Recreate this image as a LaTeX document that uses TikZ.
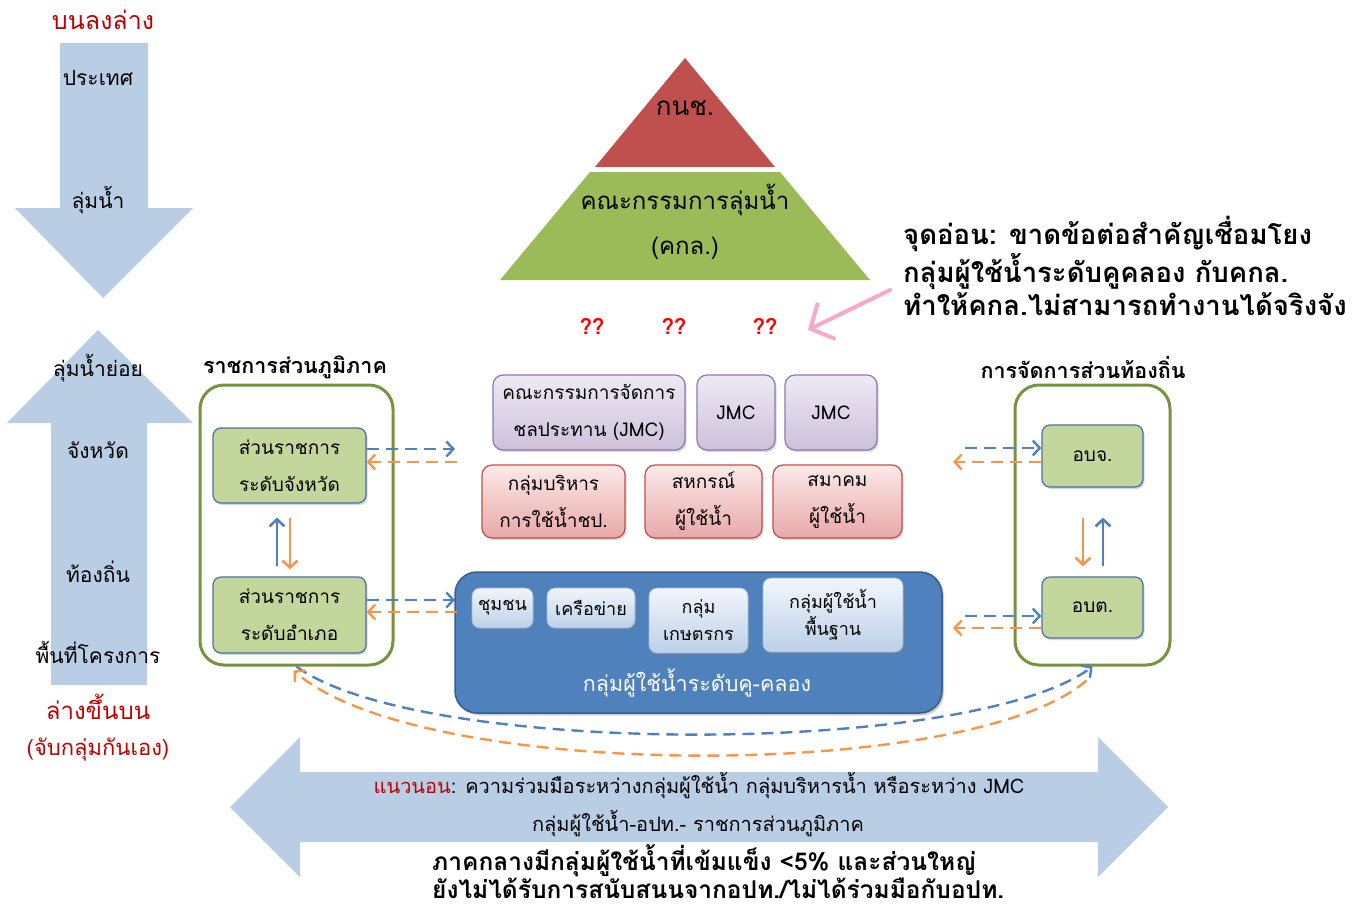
\documentclass[tikz,border=0pt]{standalone}
\usepackage{fontspec}
\newfontfamily\thai[Script=Thai]{Loma}
\usetikzlibrary{arrows.meta,shadows,calc}

\definecolor{pale}{HTML}{B9CDE5}
\definecolor{hdred}{HTML}{C00000}
\definecolor{qred}{HTML}{FF0000}
\definecolor{pyrred}{HTML}{C0504D}
\definecolor{pyrgreen}{HTML}{9BBB59}
\definecolor{grpgreen}{HTML}{77933C}
\definecolor{boxgreen}{HTML}{C3D69B}
\definecolor{boxedge}{HTML}{4A6FA5}
\definecolor{lilac1}{HTML}{EEEAF4}
\definecolor{lilac2}{HTML}{CDC1DB}
\definecolor{lilacedge}{HTML}{8E78B0}
\definecolor{rose1}{HTML}{FBE9E9}
\definecolor{rose2}{HTML}{E9A9A8}
\definecolor{roseedge}{HTML}{C0504D}
\definecolor{ditch}{HTML}{4F81BD}
\definecolor{ditchedge}{HTML}{385D8A}
\definecolor{sky1}{HTML}{F2F6FB}
\definecolor{sky2}{HTML}{BCD0E8}
\definecolor{flowblue}{HTML}{4F81BD}
\definecolor{floworange}{HTML}{F79646}
\definecolor{pinkarrow}{HTML}{F9A8CA}

\tikzset{
  x=1pt, y=-1pt,
  lbl/.style={font=\thai\fontsize{21}{36}\selectfont, align=center, inner sep=0pt},
  boxtxt/.style={font=\thai\fontsize{19}{37}\selectfont, align=center, inner sep=0pt},
  smalltxt/.style={font=\thai\fontsize{18}{27}\selectfont, align=center, inner sep=0pt},
  redhead/.style={font=\thai\fontsize{25}{42}\selectfont, text=hdred, align=center, inner sep=0pt},
  grptitle/.style={font=\thai\bfseries\fontsize{21.5}{24}\selectfont, inner sep=0pt},
  grpbox/.style={draw=grpgreen, line width=3pt, rounded corners=24pt},
  unitbox/.style={draw=boxedge, line width=1.2pt, fill=boxgreen, rounded corners=8pt,
    drop shadow={shadow xshift=1.5pt, shadow yshift=-2pt, opacity=.3}},
  jmcbox/.style={draw=lilacedge, line width=1.2pt, rounded corners=10pt,
    top color=lilac1, bottom color=lilac2,
    drop shadow={shadow xshift=1.5pt, shadow yshift=-2pt, opacity=.3}},
  assocbox/.style={draw=roseedge, line width=1.2pt, rounded corners=10pt,
    top color=rose1, bottom color=rose2,
    drop shadow={shadow xshift=1.5pt, shadow yshift=-2pt, opacity=.3}},
  ditchbox/.style={draw=ditchedge, line width=1.5pt, fill=ditch, rounded corners=22pt,
    drop shadow={shadow xshift=2pt, shadow yshift=-2.5pt, opacity=.35}},
  subbox/.style={draw=sky2!80!ditchedge, line width=.8pt, rounded corners=8pt,
    top color=sky1, bottom color=sky2,
    drop shadow={shadow xshift=1.5pt, shadow yshift=-2pt, opacity=.35}},
  barb/.style={-{Straight Barb[length=7pt,width=15pt]}},
  bflow/.style={barb, draw=flowblue, line width=2.4pt, dash pattern=on 12pt off 7pt},
  oflow/.style={barb, draw=floworange, line width=2.4pt, dash pattern=on 12pt off 7pt},
  bsolid/.style={barb, draw=flowblue, line width=2.6pt},
  osolid/.style={barb, draw=floworange, line width=2.6pt},
  qmark/.style={font=\thai\bfseries\fontsize{22}{24}\selectfont, text=qred, inner sep=0pt},
  notetxt/.style={font=\thai\bfseries\fontsize{27.5}{33}\selectfont, align=left, inner sep=0pt},
}

\begin{document}
\begin{tikzpicture}
% canvas
\fill[white] (0,0) rectangle (1370,908);
\useasboundingbox (0,0) rectangle (1370,908);

% ---- vertical scale arrows on the left
\fill[pale] (60,43) -- (148,43) -- (148,208) -- (193,208) -- (103,298) -- (15,208) -- (60,208) -- cycle;
\fill[pale] (98,330) -- (193,423) -- (147,423) -- (147,685) -- (51,685) -- (51,423) -- (7,423) -- cycle;

\node[redhead] (topdown) at (103,20) {บนลงล่าง};
\node[lbl] (country) at (98,78) {ประเทศ};
\node[lbl] (basin) at (98,200) {ลุ่มน้ำ};
\node[lbl] (subbasin) at (98,368) {ลุ่มน้ำย่อย};
\node[lbl] (province) at (98,450) {จังหวัด};
\node[lbl] (locality) at (98,572) {ท้องถิ่น};
\node[lbl] (project) at (98,652) {พื้นที่โครงการ};
\node[redhead, font=\thai\fontsize{24}{26}\selectfont] (bottomup) at (98,707) {ล่างขึ้นบน};
\node[redhead, font=\thai\fontsize{22}{24}\selectfont] (selforg) at (98,750) {(จับกลุ่มกันเอง)};

% ---- horizontal arrow
\fill[pale] (230,807) -- (300,737) -- (300,772) -- (1098,772) -- (1098,737) -- (1168,807)
  -- (1098,877) -- (1098,842) -- (300,842) -- (300,877) -- cycle;
\node[font=\thai\fontsize{20}{24}\selectfont, inner sep=0pt] (horiz1) at (699,785)
  {\textcolor{hdred}{แนวนอน}: ความร่วมมือระหว่างกลุ่มผู้ใช้น้ำ กลุ่มบริหารน้ำ หรือระหว่าง JMC};
\node[font=\thai\fontsize{20}{24}\selectfont, inner sep=0pt] (horiz2) at (698,823)
  {กลุ่มผู้ใช้น้ำ-อปท.- ราชการส่วนภูมิภาค};
\node[font=\thai\bfseries\fontsize{24.5}{26}\selectfont, align=left, inner sep=0pt, anchor=west] (central) at (432,872)
  {ภาคกลางมีกลุ่มผู้ใช้น้ำที่เข้มแข็ง <5\% และส่วนใหญ่\\ยังไม่ได้รับการสนับสนนจากอปท./ไม่ได้ร่วมมือกับอปท.};

% ---- pyramid
\fill[pyrred] (685,58) -- (775,167) -- (595,167) -- cycle;
\fill[pyrgreen] (590,172) -- (780,172) -- (870,280) -- (500,280) -- cycle;
\node[font=\thai\fontsize{26}{30}\selectfont, inner sep=0pt] (nwrc) at (685,108) {กนช.};
\node[font=\thai\fontsize{24}{45}\selectfont, align=center, inner sep=0pt] (rbc) at (685,222) {คณะกรรมการลุ่มน้ำ\\(คกล.)};

% ---- missing links
\node[qmark] (q1) at (592,326) {??};
\node[qmark] (q2) at (674,326) {??};
\node[qmark] (q3) at (765,326) {??};
\node[notetxt, anchor=west] (note) at (903,266)
  {จุดอ่อน: ขาดข้อต่อสำคัญเชื่อมโยง\\กลุ่มผู้ใช้น้ำระดับคูคลอง กับคกล.\\ทำให้คกล.ไม่สามารถทำงานได้จริงจัง};
\coordinate (pinktail) at (890,290);
\coordinate (pinktip) at (808,330);
\draw[pinkarrow, line width=4pt, line cap=round, -{Straight Barb[length=17pt,width=38pt,line cap=round]}] (pinktail) -- (pinktip);

% ---- regional administration
\node[grptitle] (regtitle) at (295,367) {ราชการส่วนภูมิภาค};
\node[grpbox, minimum width=193pt, minimum height=280pt] (lgrp) at (296.5,525) {};
\node[unitbox, boxtxt, minimum width=153pt, minimum height=75pt] (prov) at (289.5,465.5) {ส่วนราชการ\\ระดับจังหวัด};
\node[unitbox, boxtxt, minimum width=153pt, minimum height=76pt] (amp) at (289.5,615) {ส่วนราชการ\\ระดับอำเภอ};
\draw[bsolid, shorten <=10pt, shorten >=14pt] ([xshift=-12.5pt]amp.north) -- ([xshift=-12.5pt]prov.south);
\draw[osolid, shorten <=14pt, shorten >=7pt] ([xshift=0.5pt]prov.south) -- ([xshift=0.5pt]amp.north);

% ---- local government
\node[grptitle] (loctitle) at (1083,367) {การจัดการส่วนท้องถิ่น};
\node[grpbox, minimum width=155pt, minimum height=280pt] (rgrp) at (1092.5,525) {};
\node[unitbox, boxtxt, minimum width=101pt, minimum height=62pt] (obj) at (1092.5,456) {อบจ.};
\node[unitbox, boxtxt, minimum width=101pt, minimum height=61pt] (obt) at (1092.5,607.5) {อบต.};
\draw[osolid, shorten <=30pt, shorten >=10pt] ([xshift=-9.5pt]obj.south) -- ([xshift=-9.5pt]obt.north);
\draw[bsolid, shorten <=10pt, shorten >=30pt] ([xshift=10.5pt]obt.north) -- ([xshift=10.5pt]obj.south);

% ---- irrigation committees and water user organisations
\node[jmcbox, boxtxt, minimum width=192pt, minimum height=75pt] (jmc1) at (589,412.5) {คณะกรรมการจัดการ\\ชลประทาน (JMC)};
\node[jmcbox, boxtxt, minimum width=78pt, minimum height=75pt] (jmc2) at (736,412.5) {JMC};
\node[jmcbox, boxtxt, minimum width=92pt, minimum height=75pt] (jmc3) at (831,412.5) {JMC};
\node[assocbox, boxtxt, minimum width=143pt, minimum height=73pt] (wug) at (553.5,501.5) {กลุ่มบริหาร\\การใช้น้ำชป.};
\node[assocbox, boxtxt, minimum width=117pt, minimum height=73pt] (coop) at (703.5,501.5) {สหกรณ์\\ผู้ใช้น้ำ};
\node[assocbox, boxtxt, minimum width=129pt, minimum height=73pt] (assoc) at (837.5,501.5) {สมาคม\\ผู้ใช้น้ำ};

\node[ditchbox, minimum width=487pt, minimum height=141pt] (ditch) at (698.5,642.5) {};
\node[subbox, smalltxt, minimum width=61pt, minimum height=40pt] (community) at (502.5,608) {ชุมชน};
\node[subbox, smalltxt, minimum width=88pt, minimum height=40pt] (network) at (591,608) {เครือข่าย};
\node[subbox, smalltxt, minimum width=99pt, minimum height=65pt] (farmers) at (698.5,620.5) {กลุ่ม\\เกษตรกร};
\node[subbox, smalltxt, minimum width=140pt, minimum height=74pt] (basicwug) at (833,615) {กลุ่มผู้ใช้น้ำ\\พื้นฐาน};
\node[font=\thai\fontsize{21.5}{24}\selectfont, text=white, inner sep=0pt] (ditchlbl) at (697,683) {กลุ่มผู้ใช้น้ำระดับคู-คลอง};

% ---- two-way dashed links
\coordinate (lb1) at (455,449);  \coordinate (lo1) at (457,462);
\coordinate (lb2) at (455,600);  \coordinate (lo2) at (457,612);
\coordinate (rb1) at (965,448);  \coordinate (ro1) at (953,462);
\coordinate (rb2) at (965,616);  \coordinate (ro2) at (953,628);
\draw[bflow] (prov.east |- lb1) -- (lb1);
\draw[oflow] (lo1) -- (prov.east |- lo1);
\draw[bflow] (amp.east |- lb2) -- (lb2);
\draw[oflow] (lo2) -- (amp.east |- lo2);
\draw[bflow] (rb1) -- (obj.west |- rb1);
\draw[oflow] (obj.west |- ro1) -- (ro1);
\draw[bflow] (rb2) -- (obt.west |- rb2);
\draw[oflow] (obt.west |- ro2) -- (ro2);

% ---- regional <-> local links
\draw[bflow] (lgrp.south) .. controls (420,757) and (970,757) .. (rgrp.south);
\draw[oflow] ([xshift=-6pt,yshift=-14pt]rgrp.south) .. controls (970,782) and (420,782) .. ([xshift=-3pt,yshift=-4pt]lgrp.south);
\end{tikzpicture}
\end{document}
